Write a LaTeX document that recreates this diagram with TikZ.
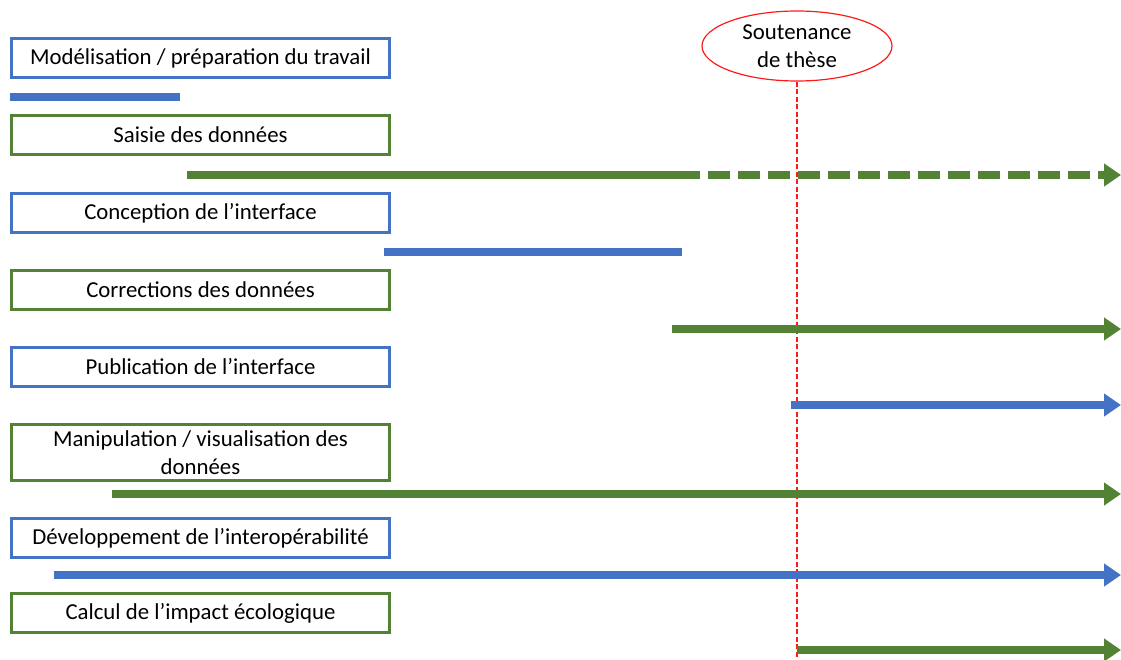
\documentclass[tikz,border=0pt]{standalone}
\usepackage{fontspec}
\setmainfont{Carlito}
\usetikzlibrary{arrows.meta,shapes.geometric,positioning}
\definecolor{tacheBleu}{HTML}{4472C4}
\definecolor{tacheVert}{HTML}{548235}
\definecolor{jalonRouge}{HTML}{FF1A1A}

\begin{document}
\begin{tikzpicture}[x=1pt,y=-1pt]
  \useasboundingbox (0,0) rectangle (1121,659);
  \tikzstyle{TacheStyle}=[draw,line width=3pt,fill=white,inner sep=0pt,
    minimum width=378pt,minimum height=39pt,align=center,
    font=\fontsize{22.8}{28}\selectfont]
  \tikzstyle{BarreStyle}=[line width=8pt]
  \tikzstyle{FlecheStyle}=[BarreStyle,-{Triangle[length=17pt,width=22pt]}]

  % les taches
  \node[TacheStyle,draw=tacheBleu] (modele) at (200.5,58) {Modélisation / préparation du travail};
  \node[TacheStyle,draw=tacheVert] (saisie) at (200.5,135) {Saisie des données};
  \node[TacheStyle,draw=tacheBleu] (concept) at (200.5,213) {Conception de l’interface};
  \node[TacheStyle,draw=tacheVert] (correct) at (200.5,290) {Corrections des données};
  \node[TacheStyle,draw=tacheBleu] (publi) at (200.5,367) {Publication de l’interface};
  \node[TacheStyle,draw=tacheVert,minimum height=56pt] (manip) at (200.5,452.5) {Manipulation / visualisation des\\données};
  \node[TacheStyle,draw=tacheBleu] (interop) at (200.5,538) {Développement de l’interopérabilité};
  \node[TacheStyle,draw=tacheVert] (impact) at (200.5,613) {Calcul de l’impact écologique};

  % la soutenance
  \node[ellipse,draw=jalonRouge,line width=1.2pt,minimum width=190pt,minimum height=70pt,
    inner sep=0pt,align=center,font=\fontsize{22.8}{28}\selectfont] (these) at (797,46) {Soutenance\\de thèse};
  \coordinate (finthese) at (797,659);
  \draw[jalonRouge,line width=1.5pt,dash pattern=on 5pt off 2.5pt] (these.south) -- (finthese);

  % les durees
  \coordinate (d1) at (10,97);   \coordinate (f1) at (180,97);
  \coordinate (d2) at (187,175); \coordinate (m2) at (700,175);
  \coordinate (n2) at (708,175); \coordinate (f2) at (1121,175);
  \coordinate (d3) at (384,252); \coordinate (f3) at (682,252);
  \coordinate (d4) at (672,329); \coordinate (f4) at (1121,329);
  \coordinate (d5) at (791,405); \coordinate (f5) at (1121,405);
  \coordinate (d6) at (112,494); \coordinate (f6) at (1121,494);
  \coordinate (d7) at (54,575);  \coordinate (f7) at (1121,575);
  \coordinate (d8) at (797,650); \coordinate (f8) at (1121,650);

  \draw[BarreStyle,tacheBleu] (d1) -- (f1);
  \draw[BarreStyle,tacheVert] (d2) -- (m2);
  \draw[FlecheStyle,tacheVert,dash pattern=on 22pt off 8pt] (n2) -- (f2);
  \draw[BarreStyle,tacheBleu] (d3) -- (f3);
  \draw[FlecheStyle,tacheVert] (d4) -- (f4);
  \draw[FlecheStyle,tacheBleu] (d5) -- (f5);
  \draw[FlecheStyle,tacheVert] (d6) -- (f6);
  \draw[FlecheStyle,tacheBleu] (d7) -- (f7);
  \draw[FlecheStyle,tacheVert] (d8) -- (f8);
\end{tikzpicture}
\end{document}
